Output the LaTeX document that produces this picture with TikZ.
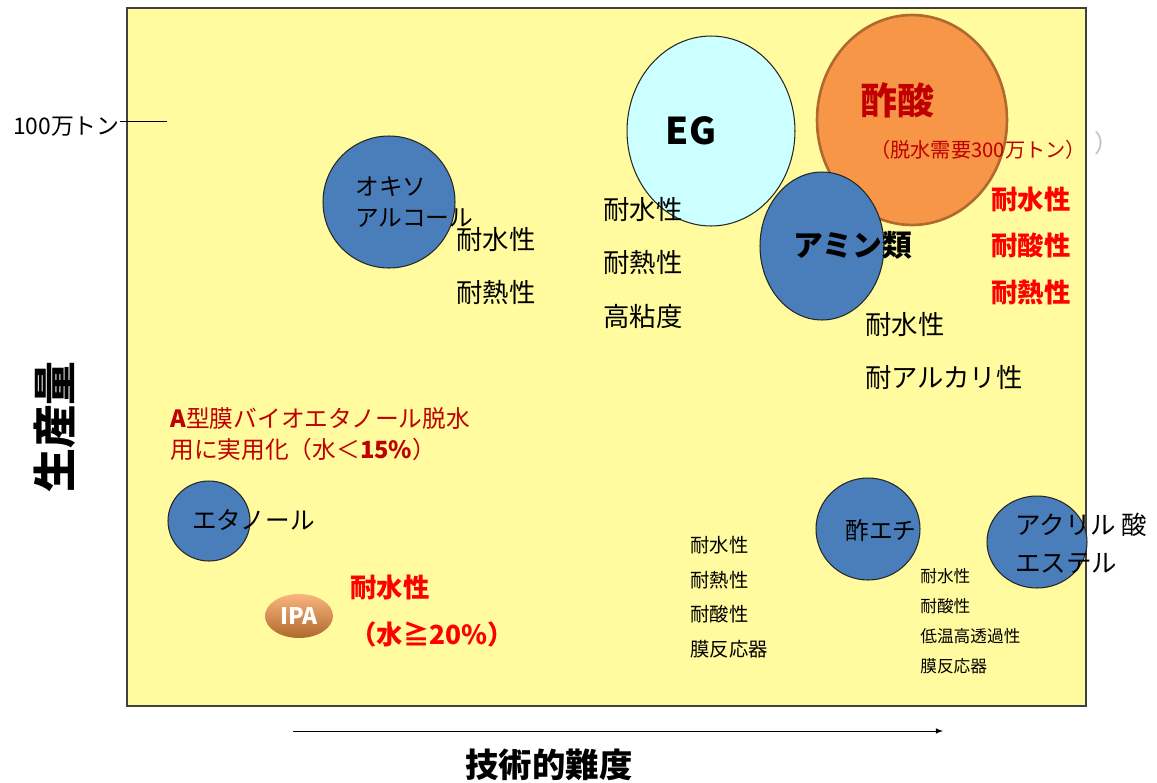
\documentclass[tikz,border=0pt]{standalone}
\usepackage{fontspec}
\setmainfont{Noto Sans CJK JP}
\usetikzlibrary{shapes.geometric}
\definecolor{pale}{HTML}{FFFB9E}
\definecolor{blu}{HTML}{4A7EBB}
\definecolor{cyn}{HTML}{CCFFFF}
\definecolor{org}{HTML}{F79646}
\definecolor{orgline}{HTML}{B0692E}
\definecolor{dred}{HTML}{C00000}

\begin{document}
\begin{tikzpicture}[x=0.02cm, y=-0.02cm,
    every node/.style={inner sep=0pt},
    bub/.style={ellipse, draw=black!85, line width=0.6pt, fill=blu},
    txtL/.style={font=\fontsize{15}{30.5}\selectfont, align=left, anchor=west},
    txtM/.style={font=\fontsize{13.5}{18}\selectfont, align=left, anchor=west},
    txtS/.style={font=\fontsize{11}{19.7}\selectfont, align=left, anchor=west},
    txtXS/.style={font=\fontsize{9.5}{17}\selectfont, align=left, anchor=west}]
        \useasboundingbox (0,0) rectangle (1157,782);
        \draw[black!75, line width=0.8pt, fill=pale] (127,8) rectangle (1086,706);
        % circles
        \node (oxo) at (389,202) [bub, minimum width=2.64cm, minimum height=2.64cm] {};
        \node (eg) at (711,131) [bub, fill=cyn, minimum width=3.36cm, minimum height=3.80cm] {};
        \node (acetic) at (912,120) [bub, fill=org, draw=orgline, line width=1.5pt, minimum width=3.80cm, minimum height=4.20cm] {};
        \node (amine) at (822,246) [bub, minimum width=2.48cm, minimum height=2.96cm] {};
        \node (ethanol) at (209,521) [bub, minimum width=1.64cm, minimum height=1.60cm] {};
        \node (etac) at (868,529) [bub, minimum width=2.08cm, minimum height=2.04cm] {};
        \node (acryl) at (1037,542) [bub, minimum width=2.00cm, minimum height=1.84cm] {};
        \node (ipa) at (299,616) [ellipse, shade, top color=org!70, bottom color=orgline, minimum width=1.36cm, minimum height=0.88cm] {};
        % labels
        \node (egT) at (eg) [font=\fontsize{21}{24}\selectfont\bfseries, xshift=-0.4cm] {EG};
        \node (aceticT) at (897,100) [font=\fontsize{21}{24}\selectfont\bfseries, text=dred] {酢酸};
        \node (demand) at (870,150) [anchor=west, font=\fontsize{11.5}{14}\selectfont, text=dred] {（脱水需要300万トン）};
        \node (stray) at (1107,143) [font=\fontsize{14}{16}\selectfont, text=black!25] {）};
        \node (amineT) at (793,245) [anchor=west, font=\fontsize{17}{20}\selectfont\bfseries] {アミン類};
        \node (oxoT) at (355,202) [txtM] {オキソ\\アルコール};
        \node (ethT) at (192,520) [txtM, font=\fontsize{14}{17}\selectfont] {エタノール};
        \node (etacT) at (845,530) [txtM] {酢エチ};
        \node (acrylT) at (1015,543) [txtL, font=\fontsize{14.5}{21.5}\selectfont] {アクリル 酸\\エステル};
        \node (ipaT) at (ipa) [font=\fontsize{13}{15}\selectfont\bfseries, text=white] {IPA};
        % properties
        \node (oxoP) at (456,266) [txtL] {耐水性\\耐熱性};
        \node (egP) at (603,263) [txtL] {耐水性\\耐熱性\\高粘度};
        \node (amineP) at (865,351) [txtL] {耐水性\\耐アルカリ性};
        \node (aceticP) at (991,246) [txtL, font=\fontsize{15}{26.6}\selectfont\bfseries, text=red] {耐水性\\耐酸性\\耐熱性};
        \node (memA) at (170,434) [txtM, text=dred] {\textbf{A}型膜バイオエタノール脱水\\用に実用化（水＜\textbf{15\%}）};
        \node (ipaP) at (350,611) [txtL, font=\fontsize{15}{26.6}\selectfont\bfseries, text=red] {耐水性\\（水≧20\%）};
        \node (etacP) at (690,597) [txtS] {耐水性\\耐熱性\\耐酸性\\膜反応器};
        \node (acrylP) at (920,621) [txtXS] {耐水性\\耐酸性\\低温高透過性\\膜反応器};
        % axes
        \coordinate (tickA) at (120,121);
        \coordinate (tickB) at (167,121);
        \draw (tickA) -- (tickB);
        \node (ton) at (tickA) [anchor=east, yshift=-0.12cm, font=\fontsize{13}{15}\selectfont] {100万トン};
        \node (yax) at (55,427) [rotate=90, font=\fontsize{25}{28}\selectfont\bfseries] {生産量};
        \coordinate (arrA) at (293,731);
        \coordinate (arrB) at (943,731);
        \draw[-latex] (arrA) -- (arrB);
        \node (xax) at (549,765) [font=\fontsize{19}{22}\selectfont\bfseries] {技術的難度};
    \end{tikzpicture}
\end{document}
